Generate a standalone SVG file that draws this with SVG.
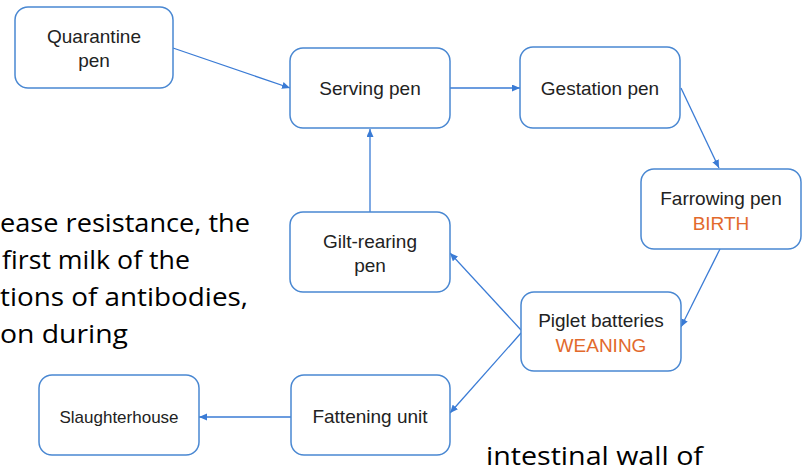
<svg xmlns="http://www.w3.org/2000/svg" width="808" height="472" viewBox="0 0 808 472">
<style>
.box{fill:#ffffff;stroke:#4a88d2;stroke-width:1.5}
.lbl{font-family:"Liberation Sans",Arial,sans-serif;font-size:19px;fill:#222;text-anchor:middle}
.org{fill:#e2692c}
.bg{font-family:"Open Sans","Liberation Sans",sans-serif;font-size:25px;fill:#000}
.edge{fill:none;stroke:#3a7bd5;stroke-width:1.3;marker-end:url(#ah)}
</style>
<defs>
<marker id="ah" markerUnits="userSpaceOnUse" markerWidth="9" markerHeight="8" refX="8" refY="3.5" orient="auto">
<path d="M0,0 L8,3.5 L0,7 z" fill="#3a7bd5"/>
</marker>
</defs>
<rect width="808" height="472" fill="#ffffff"/>
<g id="background-text">
<text class="bg" x="0" y="232" textLength="250" lengthAdjust="spacingAndGlyphs">ease resistance, the</text>
<text class="bg" x="2" y="269" textLength="188" lengthAdjust="spacingAndGlyphs">first milk of the</text>
<text class="bg" x="0" y="306" textLength="248" lengthAdjust="spacingAndGlyphs">tions of antibodies,</text>
<text class="bg" x="0" y="343" textLength="128" lengthAdjust="spacingAndGlyphs">on during</text>
<text class="bg" x="486" y="465" textLength="217" lengthAdjust="spacingAndGlyphs">intestinal wall of</text>
</g>
<g id="connectors">
<line class="edge" x1="173" y1="48" x2="290" y2="88"/>
<line class="edge" x1="450" y1="88" x2="520" y2="88"/>
<line class="edge" x1="681" y1="88" x2="719" y2="168"/>
<line class="edge" x1="720" y1="249" x2="681" y2="327"/>
<line class="edge" x1="521" y1="330" x2="450" y2="253"/>
<line class="edge" x1="521" y1="333" x2="450" y2="413"/>
<line class="edge" x1="370" y1="212" x2="370" y2="129"/>
<line class="edge" x1="291" y1="417" x2="199" y2="417"/>
</g>
<g id="quarantine">
<rect class="box" x="15" y="7" width="158" height="81" rx="13"/>
<text class="lbl" x="94" y="43">Quarantine</text>
<text class="lbl" x="94" y="67">pen</text>
</g>
<g id="serving">
<rect class="box" x="290" y="48" width="160" height="80" rx="13"/>
<text class="lbl" x="370" y="95">Serving pen</text>
</g>
<g id="gestation">
<rect class="box" x="520" y="47" width="160" height="81" rx="13"/>
<text class="lbl" x="600" y="95">Gestation pen</text>
</g>
<g id="farrowing">
<rect class="box" x="641" y="169" width="160" height="80" rx="13"/>
<text class="lbl" x="721" y="205">Farrowing pen</text>
<text class="lbl org" x="721" y="230">BIRTH</text>
</g>
<g id="gilt-rearing">
<rect class="box" x="290" y="212" width="160" height="80" rx="13"/>
<text class="lbl" x="370" y="248">Gilt-rearing</text>
<text class="lbl" x="370" y="272">pen</text>
</g>
<g id="piglet">
<rect class="box" x="521" y="292" width="160" height="79" rx="13"/>
<text class="lbl" x="601" y="327">Piglet batteries</text>
<text class="lbl org" x="601" y="352">WEANING</text>
</g>
<g id="slaughterhouse">
<rect class="box" x="39" y="375" width="160" height="80" rx="13"/>
<text class="lbl" x="119" y="423" style="font-size:17px">Slaughterhouse</text>
</g>
<g id="fattening">
<rect class="box" x="291" y="375" width="159" height="80" rx="13"/>
<text class="lbl" x="370" y="423">Fattening unit</text>
</g>
</svg>
